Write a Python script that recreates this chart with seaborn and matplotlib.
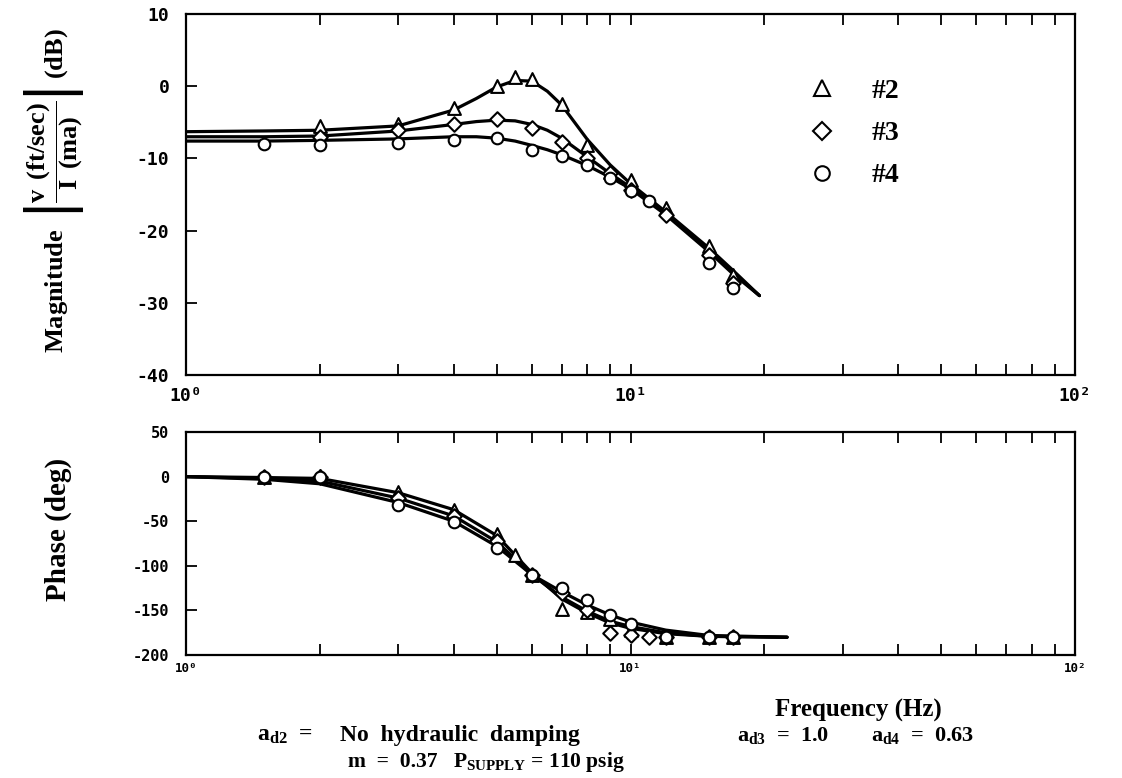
import numpy as np
import pandas as pd
import matplotlib
matplotlib.use("Agg")
import matplotlib.pyplot as plt
import seaborn as sns
from matplotlib.lines import Line2D
from matplotlib.ticker import LogLocator, NullFormatter, FixedLocator

# ---------------- data ----------------
units = ["#2", "#3", "#4"]

# magnitude measurements (dB)
mag_f2 = [2, 3, 4, 5, 5.5, 6, 7, 8, 9, 10, 12, 15, 17]
mag_v2 = [-5.5, -5.3, -3.0, 0.0, 1.3, 1.0, -2.5, -8.2, -11.9, -13.0, -16.9, -22.2, -26.2]
mag_f3 = [2, 3, 4, 5, 6, 7, 8, 9, 10, 12, 15, 17]
mag_v3 = [-7.0, -6.1, -5.2, -4.6, -5.8, -7.7, -10.0, -12.0, -14.4, -17.8, -23.4, -27.3]
mag_f4 = [1.5, 2, 3, 4, 5, 6, 7, 8, 9, 10, 11, 15, 17]
mag_v4 = [-8.0, -8.2, -7.8, -7.4, -7.2, -8.8, -9.6, -10.9, -12.7, -14.5, -15.9, -24.5, -28.0]

# magnitude fitted curves (dB)
curve_f = [1, 1.5, 2, 3, 4, 4.5, 5, 5.5, 6, 6.5, 7, 8, 9, 10, 12, 15, 17, 19.5]
curve2 = [-6.3, -6.2, -6.1, -5.5, -3.3, -1.7, -0.1, 0.8, 0.7, -0.7, -2.6, -7.4, -10.9, -13.5, -17.4, -22.4, -25.5, -29.0]
curve3 = [-7.0, -7.0, -6.9, -6.2, -5.3, -4.9, -4.7, -4.8, -5.3, -6.1, -7.2, -9.8, -12.1, -14.0, -17.6, -22.7, -25.8, -29.0]
curve4 = [-7.6, -7.6, -7.5, -7.3, -7.0, -7.0, -7.2, -7.6, -8.2, -8.8, -9.5, -11.0, -12.6, -14.2, -17.8, -22.9, -26.0, -29.0]

# phase measurements (deg)
ph_f2 = [1.5, 2, 3, 4, 5, 5.5, 6, 7, 8, 9, 10, 12, 15, 17]
ph_v2 = [0, 1, -17, -37, -64, -88, -110, -148, -152, -160, -172, -180, -180, -180]
ph_f3 = [1.5, 2, 3, 4, 5, 6, 7, 8, 9, 10, 11, 12, 15, 17]
ph_v3 = [0, 0, -24, -44, -72, -110, -130, -150, -175, -178, -180, -180, -180, -180]
ph_f4 = [1.5, 2, 3, 4, 5, 6, 7, 8, 9, 10, 12, 15, 17]
ph_v4 = [0, 0, -32, -51, -80, -110, -125, -138, -155, -165, -180, -180, -180]

# phase fitted curves (deg)
pcurve_f = [1, 1.5, 2, 3, 4, 5, 6, 7, 8, 9, 10, 12, 15, 22.5]
pcurve2 = [0, -1, -2, -18, -37, -66, -108, -137, -153, -164, -170, -176, -179, -180]
pcurve3 = [0, -2, -5, -24, -44, -73, -110, -135, -151, -162, -168, -175, -179, -180]
pcurve4 = [0, -3, -8, -29, -50, -78, -110, -129, -144, -155, -163, -172, -178, -180]

mag_yticks = [-40, -30, -20, -10, 0, 10]
ph_yticks = [-200, -150, -100, -50, 0, 50]
x_major = [1, 10, 100]
x_labels = ["10\u2070", "10\u00b9", "10\u00b2"]
markers = {"#2": "^", "#3": "D", "#4": "o"}
marker_sizes = {"#2": 85, "#3": 55, "#4": 70}


def long_df(fs, vs):
    rows = []
    for u, f, v in zip(units, fs, vs):
        for a, b in zip(f, v):
            rows.append({"unit": u, "f": a, "v": b})
    return pd.DataFrame(rows)


mag_pts = long_df([mag_f2, mag_f3, mag_f4], [mag_v2, mag_v3, mag_v4])
mag_curves = long_df([curve_f] * 3, [curve2, curve3, curve4])
ph_pts = long_df([ph_f2, ph_f3, ph_f4], [ph_v2, ph_v3, ph_v4])
ph_curves = long_df([pcurve_f] * 3, [pcurve2, pcurve3, pcurve4])

# ---------------- style ----------------
sns.set_theme(style="ticks")
plt.rcParams.update({
    "font.family": ["Liberation Serif", "DejaVu Serif"],
    "font.weight": "bold",
    "mathtext.fontset": "custom",
    "mathtext.rm": "Liberation Serif:bold",
    "mathtext.it": "Liberation Serif:italic:bold",
    "mathtext.bf": "Liberation Serif:bold",
    "axes.unicode_minus": False,
    "axes.linewidth": 1.6,
    "axes.edgecolor": "black",
    "text.color": "black",
    "axes.labelcolor": "black",
    "xtick.color": "black",
    "ytick.color": "black",
})

fig = plt.figure(figsize=(11.22, 7.78), dpi=100)
ax1 = fig.add_axes([0.1658, 0.518, 0.7923, 0.464])
ax2 = fig.add_axes([0.1658, 0.158, 0.7923, 0.2867])

tickfont = {"family": "DejaVu Sans Mono", "weight": "bold"}


def draw(ax, curves, pts):
    sns.lineplot(data=curves, x="f", y="v", units="unit", estimator=None,
                 sort=False, color="black", linewidth=2.3, ax=ax, legend=False)
    for u in units:
        sub = pts[pts["unit"] == u]
        sns.scatterplot(data=sub, x="f", y="v", marker=markers[u],
                        s=marker_sizes[u], color="white", edgecolor="black",
                        linewidth=1.5, ax=ax, legend=False, zorder=4)
    ax.set_xscale("log")
    ax.set_xlim(1, 100)
    ax.xaxis.set_major_locator(FixedLocator(x_major))
    ax.xaxis.set_minor_locator(LogLocator(base=10, subs=range(2, 10)))
    ax.xaxis.set_minor_formatter(NullFormatter())
    ax.tick_params(which="both", direction="in", top=True, bottom=True,
                   right=False, left=True, length=8, width=1.3, color="black")
    ax.set_xlabel("")
    ax.set_ylabel("")
    for s in ax.spines.values():
        s.set_visible(True)
        s.set_linewidth(1.6)


draw(ax1, mag_curves, mag_pts)
ax1.set_ylim(-40, 10)
ax1.set_yticks(mag_yticks)
ax1.set_yticklabels([str(t) for t in mag_yticks], fontdict=tickfont, fontsize=13)
ax1.set_xticklabels(x_labels, fontdict=tickfont, fontsize=13)
ax1.tick_params(axis="x", pad=9)
ax1.tick_params(axis="y", pad=12)

draw(ax2, ph_curves, ph_pts)
ax2.set_ylim(-200, 50)
ax2.set_yticks(ph_yticks)
ax2.set_yticklabels([str(t) for t in ph_yticks], fontdict=tickfont, fontsize=11)
ax2.set_xticklabels(x_labels, fontdict=tickfont, fontsize=9)
ax2.tick_params(axis="x", pad=5)
ax2.tick_params(axis="y", pad=12)

# legend
handles = [Line2D([], [], linestyle="none", marker=markers[u], markersize=ms,
                  markerfacecolor="white", markeredgecolor="black",
                  markeredgewidth=1.5, label=u)
           for u, ms in zip(units, [12, 9, 10.5])]
ax1.legend(handles=handles, loc="upper left", bbox_to_anchor=(0.656, 0.89),
           frameon=False, handletextpad=0.8, labelspacing=0.6,
           prop={"family": "Liberation Serif", "weight": "bold", "size": 20})

# axis labels
fig.text(0.048, 0.755,
         r"Magnitude  $\left|\dfrac{\mathrm{v\ \,(ft/sec)}}{\mathrm{I\ \,(ma)}}\right|$ (dB)",
         rotation=90, ha="center", va="center", fontsize=19, fontweight="bold")
fig.text(0.052, 0.319, "Phase (deg)", rotation=90, ha="center", va="center",
         fontsize=21, fontweight="bold")
fig.text(0.765, 0.0865, "Frequency (Hz)", ha="center", va="center",
         fontsize=18, fontweight="bold")

# caption
cap = {"fontweight": "bold", "va": "center", "ha": "left"}
y1, y2 = 0.054, 0.021
fig.text(0.229, y1, r"$\mathrm{a_{d2}}$  =", fontsize=17, **cap)
fig.text(0.303, y1, "No  hydraulic  damping", fontsize=17, **cap)
fig.text(0.657, y1, r"$\mathrm{a_{d3}}$  =  1.0", fontsize=16, **cap)
fig.text(0.776, y1, r"$\mathrm{a_{d4}}$  =  0.63", fontsize=16, **cap)
fig.text(0.31, y2, "m  =  0.37", fontsize=15.5, **cap)
fig.text(0.404, y2, r"$\mathrm{P_{SUPPLY}}$ = 110 psig", fontsize=15.5, **cap)

fig.savefig("out.png", dpi=100, facecolor="white")
